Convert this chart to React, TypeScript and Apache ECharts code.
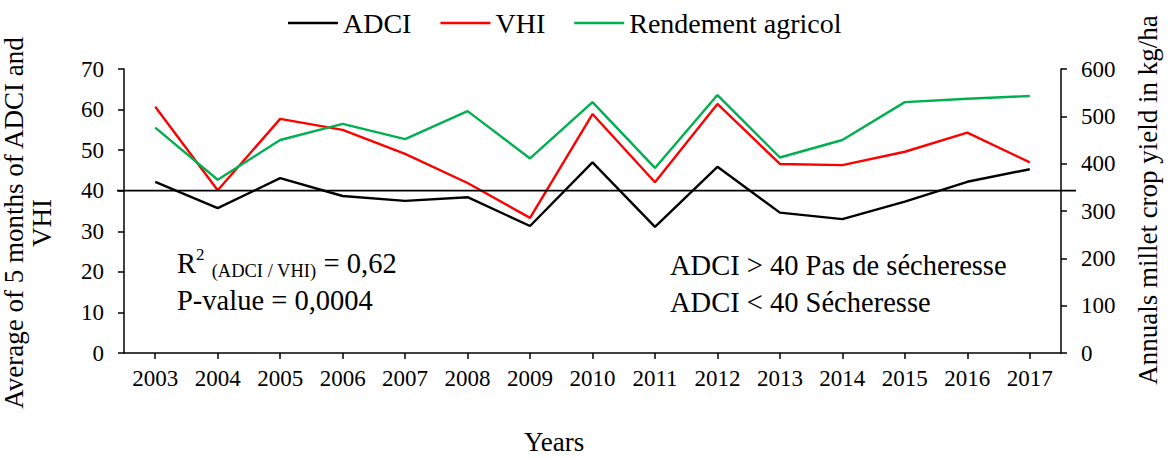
import React, { useEffect, useRef } from "react";
import * as echarts from "echarts";

const years = ["2003", "2004", "2005", "2006", "2007", "2008", "2009", "2010", "2011", "2012", "2013", "2014", "2015", "2016", "2017"];
const adci = [42.2, 35.7, 43.1, 38.7, 37.5, 38.4, 31.3, 47.0, 31.1, 45.9, 34.6, 33.0, 37.3, 42.2, 45.3];
const vhi = [60.7, 40.1, 57.7, 55.0, 49.1, 41.9, 33.3, 58.9, 42.1, 61.4, 46.6, 46.3, 49.6, 54.3, 47.0];
const yieldKgHa = [476, 366, 450, 484, 452, 511, 411, 530, 391, 545, 413, 450, 530, 537, 543];
const droughtThreshold = 40;

const FONT = "'Liberation Serif', 'Times New Roman', serif";

export default function App() {
  const ref = useRef<HTMLDivElement>(null);
  useEffect(() => {
    if (!ref.current) return;
    const chart = echarts.init(ref.current, undefined, { renderer: "svg" });
    const axisLine = { show: true, lineStyle: { color: "#000", width: 1.5 } };
    const axisTick = { show: true, length: 6, lineStyle: { color: "#000", width: 1.5 } };
    chart.setOption({
      animation: false,
      backgroundColor: "#fff",
      textStyle: { fontFamily: FONT },
      legend: {
        left: 283,
        top: 4,
        icon: "rect",
        itemWidth: 50,
        itemHeight: 2.5,
        itemGap: 29,
        textStyle: { fontFamily: FONT, fontSize: 28, color: "#000" },
        data: ["ADCI", "VHI", "Rendement agricol"],
      },
      grid: { left: 124, right: 107, top: 69, bottom: 106, containLabel: false },
      xAxis: {
        type: "category",
        data: years,
        boundaryGap: true,
        axisLine,
        axisTick: { ...axisTick, alignWithLabel: true },
        axisLabel: { fontFamily: FONT, fontSize: 23, color: "#000", margin: 14 },
        splitLine: { show: false },
      },
      yAxis: [
        {
          type: "value",
          min: 0,
          max: 70,
          interval: 10,
          position: "left",
          axisLine,
          axisTick,
          axisLabel: { fontFamily: FONT, fontSize: 23, color: "#000", margin: 20 },
          splitLine: { show: false },
        },
        {
          type: "value",
          min: 0,
          max: 600,
          interval: 100,
          position: "right",
          axisLine,
          axisTick,
          axisLabel: { fontFamily: FONT, fontSize: 23, color: "#000", margin: 20 },
          splitLine: { show: false },
        },
      ],
      series: [
        {
          name: "ADCI",
          type: "line",
          data: adci,
          yAxisIndex: 0,
          symbol: "none",
          lineStyle: { color: "#000", width: 2.4 },
          itemStyle: { color: "#000" },
        },
        {
          name: "VHI",
          type: "line",
          data: vhi,
          yAxisIndex: 0,
          symbol: "none",
          lineStyle: { color: "#FF0000", width: 2.4 },
          itemStyle: { color: "#FF0000" },
        },
        {
          name: "Rendement agricol",
          type: "line",
          data: yieldKgHa,
          yAxisIndex: 1,
          symbol: "none",
          lineStyle: { color: "#00B050", width: 2.4 },
          itemStyle: { color: "#00B050" },
        },
      ],
    });
    const yLine = chart.convertToPixel({ yAxisIndex: 0 }, droughtThreshold) as number;
    chart.setOption({
      graphic: [
        {
          type: "line",
          shape: { x1: 117, y1: yLine, x2: 1076, y2: yLine },
          style: { stroke: "#000", lineWidth: 1.8 },
          z: 10,
        },
        {
          type: "text",
          x: 28,
          y: 223,
          rotation: Math.PI / 2,
          style: {
            text: "Average of 5 months of ADCI and\nVHI",
            font: `27px ${FONT}`,
            fill: "#000",
            align: "center",
            verticalAlign: "middle",
            lineHeight: 28,
          },
        },
        {
          type: "text",
          x: 1148,
          y: 200,
          rotation: Math.PI / 2,
          style: {
            text: "Annuals millet crop yield in kg/ha",
            font: `27px ${FONT}`,
            fill: "#000",
            align: "center",
            verticalAlign: "middle",
          },
        },
        {
          type: "text",
          x: 554,
          y: 442,
          style: {
            text: "Years",
            font: `27px ${FONT}`,
            fill: "#000",
            align: "center",
            verticalAlign: "middle",
          },
        },
        {
          type: "text",
          x: 177,
          y: 263,
          style: {
            text: "{r|R}{sup|2}{r| }{sub|(ADCI / VHI)}{r| = 0,62}",
            fill: "#000",
            align: "left",
            verticalAlign: "middle",
            rich: {
              r: { fontFamily: FONT, fontSize: 28.5, lineHeight: 34, fill: "#000" },
              sup: { fontFamily: FONT, fontSize: 17, lineHeight: 17, verticalAlign: "top", fill: "#000" },
              sub: { fontFamily: FONT, fontSize: 18.5, lineHeight: 21, verticalAlign: "bottom", fill: "#000" },
            },
          },
        },
        {
          type: "text",
          x: 177,
          y: 300,
          style: { text: "P-value = 0,0004", font: `28.5px ${FONT}`, fill: "#000", align: "left", verticalAlign: "middle" },
        },
        {
          type: "text",
          x: 670,
          y: 265,
          style: { text: "ADCI > 40 Pas de sécheresse", font: `28.5px ${FONT}`, fill: "#000", align: "left", verticalAlign: "middle" },
        },
        {
          type: "text",
          x: 670,
          y: 302,
          style: { text: "ADCI < 40 Sécheresse", font: `28.5px ${FONT}`, fill: "#000", align: "left", verticalAlign: "middle" },
        },
      ],
    });
    return () => chart.dispose();
  }, []);
  return (
    <div
      ref={ref}
      style={{ position: "fixed", left: 0, top: 0, width: 1168, height: 459, background: "#fff" }}
    />
  );
}
